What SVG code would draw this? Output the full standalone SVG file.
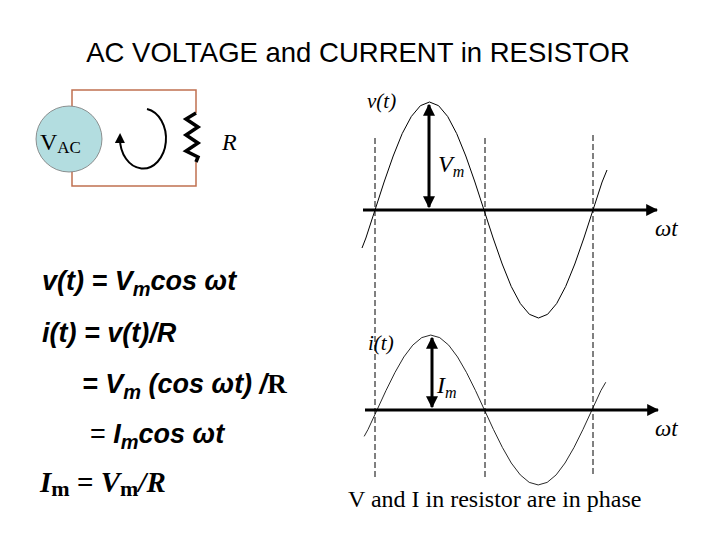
<svg xmlns="http://www.w3.org/2000/svg" width="720" height="540" viewBox="0 0 720 540">
<defs>
<marker id="ah" viewBox="0 0 10 10" refX="9" refY="5" markerWidth="4" markerHeight="4" orient="auto-start-reverse"><path d="M0,0L10,5L0,10z" fill="#000"/></marker>
<marker id="ah2" viewBox="0 0 10 10" refX="5" refY="5" markerWidth="5" markerHeight="5" orient="auto"><path d="M0,0L10,5L0,10z" fill="#000"/></marker>
<style>
.s{font-family:"Liberation Sans",Arial,sans-serif}
.t{font-family:"Liberation Serif","Times New Roman",serif}
.eq{font-family:"Liberation Sans",Arial,sans-serif;font-weight:bold;font-style:italic;font-size:27px}
.wave{fill:none;stroke:#000;stroke-width:1;stroke-linejoin:round}
.dash{stroke:#000;stroke-width:1;stroke-dasharray:6,3}
.axis{stroke:#000;stroke-width:3}
</style>
</defs>
<rect width="720" height="540" fill="#fff"/>
<text class="s" x="358" y="62" font-size="27.5" text-anchor="middle">AC VOLTAGE and CURRENT in RESISTOR</text>
<g id="circuit">
<path d="M72,106V90H196V113M196,162V186H72V172" fill="none" stroke="#c07050" stroke-width="1.5"/>
<circle id="vac" cx="69" cy="139" r="33" fill="#b3dde0" stroke="#777" stroke-width="0.8"/>
<text class="t" x="40" y="150" font-size="24">V<tspan font-size="17" dy="3">AC</tspan></text>
<path id="resistor" d="M196,113L186,119L198,127L186,135L198,143L186,151L198,157L196,162" fill="none" stroke="#000" stroke-width="3.5" stroke-linejoin="miter"/>
<text class="t" x="222" y="150" font-size="24" font-style="italic">R</text>
<path id="loop" d="M147,109A23,30 0 1 1 120,138" fill="none" stroke="#000" stroke-width="2" marker-end="url(#ah2)"/>
</g>
<g id="connectors">
<line class="dash" x1="375" y1="138" x2="375" y2="477"/>
<line class="dash" x1="485" y1="138" x2="485" y2="477"/>
<line class="dash" x1="593" y1="135" x2="593" y2="477"/>
<line class="axis" x1="363" y1="210" x2="657" y2="210" marker-end="url(#ah)"/>
<line class="axis" x1="365" y1="410" x2="658" y2="410" marker-end="url(#ah)"/>
<line class="axis" x1="429" y1="105" x2="429" y2="207" marker-start="url(#ah)" marker-end="url(#ah)"/>
<line class="axis" x1="432" y1="338" x2="432" y2="407" marker-start="url(#ah)" marker-end="url(#ah)"/>
<path id="vwave" class="wave" d="M362,248L365.9,238L375,210L384.1,182L393.2,156L402.2,133.6L411.3,116.5L420.4,105.7L429.5,102L438.6,105.7L447.7,116.5L456.7,133.6L465.8,156L474.9,182L484,210L493.1,238L502.2,264L511.2,286.4L520.3,303.5L529.4,314.3L538.5,318L547.6,314.3L556.7,303.5L565.7,286.4L574.8,264L583.9,238L593,210L602.1,182L607,170"/>
<use href="#vwave" transform="translate(377,410) scale(0.986,0.694) translate(-375,-210)" style="vector-effect:non-scaling-stroke"/>
</g>
<g id="labels" class="t" font-style="italic" font-size="21">
<text x="367" y="108">v(t)</text>
<text x="438" y="172" font-size="24">V<tspan font-size="16" dy="5">m</tspan></text>
<text x="655" y="236" font-size="23">ωt</text>
<text x="368" y="350">i(t)</text>
<text x="437" y="393" font-size="24">I<tspan font-size="16" dy="5">m</tspan></text>
<text x="655" y="436" font-size="23">ωt</text>
</g>
<text class="t" x="348" y="507" font-size="24">V and I in resistor are in phase</text>
<g id="equations">
<text class="eq" x="42" y="290">v(t) = V<tspan font-size="20" dy="6">m</tspan><tspan dy="-6">cos ωt</tspan></text>
<text class="eq" x="42" y="342">i(t) =  v(t)/R</text>
<text class="eq" x="82" y="393">=  V<tspan font-size="20" dy="6">m</tspan><tspan dy="-6"> (cos ωt) /</tspan><tspan class="t" font-style="normal">R</tspan></text>
<text class="eq" x="90" y="443"><tspan font-style="normal" font-weight="normal">= </tspan>I<tspan font-size="20" dy="6">m</tspan><tspan dy="-6">cos ωt</tspan></text>
<text class="t" x="40" y="492" font-size="29" font-weight="bold" font-style="italic">I<tspan font-size="22" font-style="normal" dy="4">m</tspan><tspan dy="-4" font-style="normal"> = </tspan>V<tspan font-size="22" font-style="normal" dy="4">m</tspan><tspan dy="-4">/R</tspan></text>
</g>
</svg>
